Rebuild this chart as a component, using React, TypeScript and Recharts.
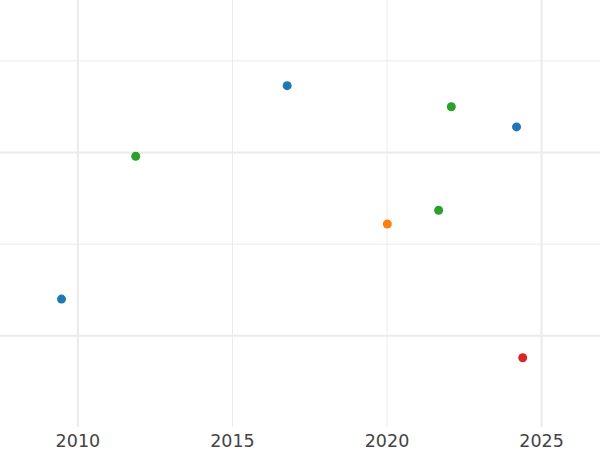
import { ScatterChart, Scatter, XAxis, YAxis, ReferenceLine } from 'recharts';

const blueYears = [2009.47, 2016.77, 2024.19];
const blueValues = [1.4, 3.73, 3.28];
const greenYears = [2011.87, 2021.67, 2022.08];
const greenValues = [2.96, 2.37, 3.5];
const orangeYears = [2020.01];
const orangeValues = [2.22];
const redYears = [2024.39];
const redValues = [0.76];

const xTicks = [2010, 2015, 2020, 2025];
const yTicks = [1, 2, 3, 4];
// major grid lines are drawn thicker
const xMajor = [2010, 2025];
const yMajor = [1, 3];

const toPoints = (xs: number[], ys: number[]) => xs.map((x, i) => ({ x, y: ys[i] }));

const series = [
  { name: 'blue', color: '#1f77b4', data: toPoints(blueYears, blueValues) },
  { name: 'green', color: '#2ca02c', data: toPoints(greenYears, greenValues) },
  { name: 'orange', color: '#ff7f0e', data: toPoints(orangeYears, orangeValues) },
  { name: 'red', color: '#d62728', data: toPoints(redYears, redValues) },
];

const gridColor = '#ebebeb';

const Dot = (color: string) => (props: any) => (
  <circle cx={props.cx} cy={props.cy} r={4.5} fill={color} />
);

export default function App() {
  return (
    <div style={{ position: 'absolute', left: 0, top: 0, background: '#fff', fontFamily: '"DejaVu Sans", sans-serif' }}>
      <ScatterChart width={600} height={450} margin={{ top: 0, right: 0, bottom: 0, left: 0 }}>
        <XAxis
          type="number"
          dataKey="x"
          domain={[2007.48, 2026.89]}
          ticks={xTicks}
          allowDataOverflow
          axisLine={false}
          tickLine={false}
          height={23}
          tick={{ fontSize: 17.5, fill: '#444' }}
        />
        <YAxis type="number" dataKey="y" domain={[0.004, 4.665]} ticks={yTicks} allowDataOverflow hide />
        {xTicks.map((t) => (
          <ReferenceLine key={'x' + t} x={t} stroke={gridColor} strokeWidth={xMajor.includes(t) ? 2 : 1} />
        ))}
        {yTicks.map((t) => (
          <ReferenceLine key={'y' + t} y={t} stroke={gridColor} strokeWidth={yMajor.includes(t) ? 2 : 1} />
        ))}
        {series.map((s) => (
          <Scatter key={s.name} name={s.name} data={s.data} fill={s.color} shape={Dot(s.color)} isAnimationActive={false} />
        ))}
      </ScatterChart>
    </div>
  );
}
